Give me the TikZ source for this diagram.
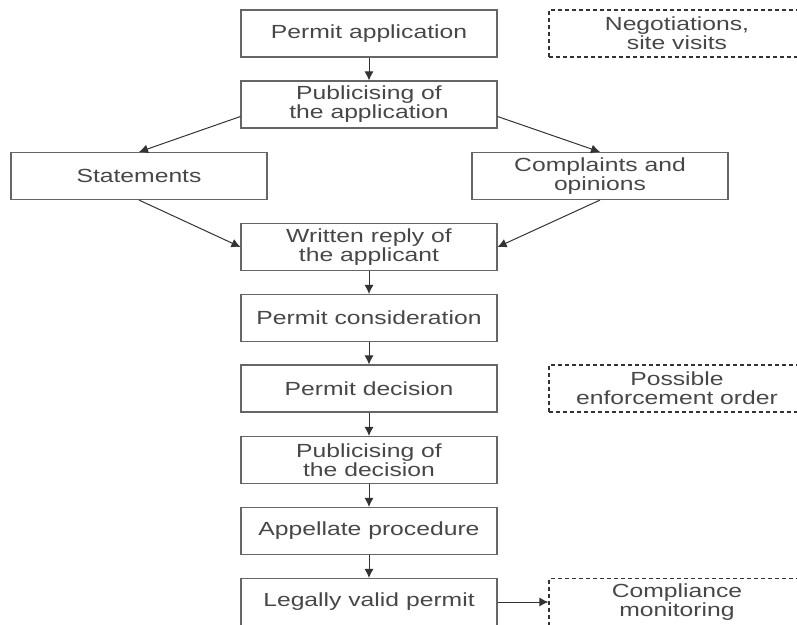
\documentclass[tikz,border=0pt]{standalone}
\usepackage{fontspec}
\setmainfont{Liberation Sans}[FakeStretch=1.3]
\usetikzlibrary{arrows.meta}

\tikzset{
  stage/.style={draw=black!60, line width=1.1pt, minimum width=256pt, minimum height=47pt,
    inner sep=0pt, align=center, text=black!72, font=\fontsize{19}{19}\selectfont},
  aside/.style={stage, draw=black!80, dash pattern=on 4pt off 3pt, line width=1.2pt},
  flow/.style={-{Latex[length=9pt,width=9pt]}, line width=1pt, draw=black!80}
}

\begin{document}
\begin{tikzpicture}[x=1pt, y=-1pt]
        \useasboundingbox (0,0) rectangle (797,624);
        % main line of the procedure
        \node[stage] (apply) at (369,33.5) {Permit application};
        \node[stage] (pubapp) at (369,104.5) {Publicising of\\the application};
        \node[stage] (state) at (139,176) {Statements};
        \node[stage] (compl) at (600,176) {Complaints and\\opinions};
        \node[stage] (reply) at (369,247) {Written reply of\\the applicant};
        \node[stage] (consid) at (369,318) {Permit consideration};
        \node[stage] (decis) at (369,388.5) {Permit decision};
        \node[stage] (pubdec) at (369,460) {Publicising of\\the decision};
        \node[stage] (appeal) at (369,531) {Appellate procedure};
        \node[stage] (valid) at (369,602) {Legally valid permit};
        % side notes
        \node[aside] (talks) at (677,33.5) {Negotiations,\\site visits};
        \node[aside] (enforce) at (677,388.5) {Possible\\enforcement order};
        \node[aside] (monitor) at (677,602) {Compliance\\monitoring};
        % arrows
        \draw[flow] (apply) -- (pubapp);
        \draw[flow] ([yshift=-12pt]pubapp.west) -- (state.north);
        \draw[flow] ([yshift=-12pt]pubapp.east) -- (compl.north);
        \draw[flow] (state.south) -- (reply.west);
        \draw[flow] (compl.south) -- (reply.east);
        \draw[flow] (reply) -- (consid);
        \draw[flow] (consid) -- (decis);
        \draw[flow] (decis) -- (pubdec);
        \draw[flow] (pubdec) -- (appeal);
        \draw[flow] (appeal) -- (valid);
        \draw[flow] (valid) -- (monitor);
\end{tikzpicture}
\end{document}
